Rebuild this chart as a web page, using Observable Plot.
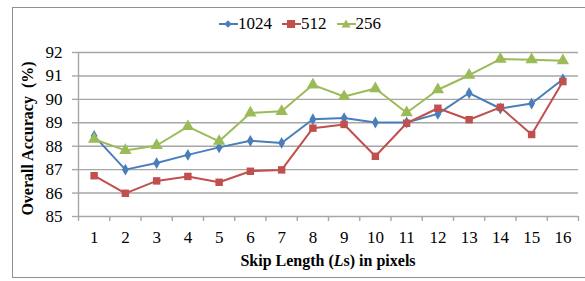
<!DOCTYPE html>
<html><head><meta charset="utf-8">
<script src="https://cdn.jsdelivr.net/npm/d3@7"></script>
<script src="https://cdn.jsdelivr.net/npm/@observablehq/plot@0.6"></script>
<style>
html,body{margin:0;padding:0;background:#fff;overflow:hidden;}
#wrap{position:relative;width:585px;height:281px;font-family:'Liberation Serif','Times New Roman',serif;}
#frame{position:absolute;left:12px;top:7px;width:600px;height:271px;border:1px solid #8f8f8f;box-sizing:border-box;}
#legend{position:absolute;top:14px;left:219px;display:flex;align-items:center;font-size:17px;color:#000;}
#legend .item{display:flex;align-items:center;margin-right:10px;}
#legend svg{display:block;}
#xlabel{position:absolute;left:0;width:656px;top:252px;text-align:center;font-weight:bold;font-size:16px;color:#000;}
#chart{position:absolute;left:0;top:0;}
#chart svg text{font-family:'Liberation Serif','Times New Roman',serif;}
</style></head>
<body><div id="wrap"><div id="frame"></div><div id="chart"></div><div id="legend"></div><div id="xlabel">Skip Length (<i>L</i>s) in pixels</div></div>
<script>
const skip = [1,2,3,4,5,6,7,8,9,10,11,12,13,14,15,16];
const acc1024 = [88.44,87.0,87.28,87.63,87.95,88.23,88.14,89.15,89.2,89.01,89.01,89.38,90.27,89.61,89.82,90.86];
const acc512  = [86.74,85.99,86.52,86.71,86.46,86.93,86.99,88.77,88.93,87.57,88.98,89.62,89.13,89.66,88.5,90.76];
const acc256  = [88.3,87.82,88.03,88.84,88.21,89.42,89.49,90.62,90.12,90.46,89.43,90.41,91.03,91.72,91.69,91.65];
const seriesNames = ["1024","512","256"];
const colors = ["#4a7ebb","#c0504d","#9bbb59"];
const symbols = ["diamond","square","triangle"];
const yTicks = [85,86,87,88,89,90,91,92];

const data = [];
[acc1024, acc512, acc256].forEach((arr, i) => arr.forEach((v, j) => data.push({s: seriesNames[i], x: skip[j], y: v})));

const boundaries = d3.range(0.5, 17, 1);
const plot = Plot.plot({
  width: 585, height: 281,
  marginLeft: 78, marginRight: 7, marginTop: 52, marginBottom: 65,
  x: {domain: [0.5, 16.5]},
  y: {domain: [85, 92]},
  color: {domain: seriesNames, range: colors},
  symbol: {domain: seriesNames, range: symbols},
  style: {fontFamily: "'Liberation Serif', 'Times New Roman', serif", fontSize: "17px", color: "#000", background: "transparent"},
  marks: [
    Plot.ruleY(yTicks.slice(1), {stroke: "#a6a6a6", strokeWidth: 1.4}),
    Plot.ruleY([85], {stroke: "#a6a6a6", strokeWidth: 1.4}),
    Plot.ruleX([0.5], {stroke: "#a6a6a6", strokeWidth: 1.4}),
    Plot.axisY({ticks: yTicks, tickSize: 6, tickPadding: 10, stroke: "#a6a6a6", strokeWidth: 1.4, color: "#000", label: null, tickFormat: d => d}),
    Plot.axisX({ticks: boundaries, tickSize: 5, tickFormat: () => "", stroke: "#a6a6a6", strokeWidth: 1.4, label: null}),
    Plot.axisX({ticks: skip, tickSize: 0, tickPadding: 14, label: null, tickFormat: d => d, color: "#000"}),
    Plot.line(data, {x: "x", y: "y", z: "s", stroke: "s", strokeWidth: 2}),
    Plot.dot(data.filter(d => d.s === "1024"), {x: "x", y: "y", fill: "s", symbol: "s", r: 3.6, stroke: "none"}),
    Plot.dot(data.filter(d => d.s === "512"), {x: "x", y: "y", fill: "s", symbol: "s", r: 4.2, stroke: "none"}),
    Plot.dot(data.filter(d => d.s === "256"), {x: "x", y: "y", fill: "s", symbol: "s", r: 4.6, stroke: "none"}),
    Plot.text(["Overall Accuracy\u00a0\u00a0(%)"], {frameAnchor: "left", textAnchor: "middle", dx: -51, dy: 4, rotate: -90, fontWeight: "bold", fontSize: 16, fill: "#000"})
  ]
});
document.getElementById("chart").appendChild(plot);

// legend
const leg = document.getElementById("legend");
const shapes = [
  c => `<path d="M9,3.2 L12.6,7 L9,10.8 L5.4,7 Z" fill="${c}"/>`,
  c => `<rect x="5" y="3" width="8" height="8" fill="${c}"/>`,
  c => `<path d="M9,2.5 L13.5,10.5 L4.5,10.5 Z" fill="${c}"/>`
];
seriesNames.forEach((n, i) => {
  const it = document.createElement("div");
  it.className = "item";
  it.innerHTML = `<svg width="19" height="14"><line x1="0" y1="7" x2="19" y2="7" stroke="${colors[i]}" stroke-width="2"/>${shapes[i](colors[i])}</svg><span>${n}</span>`;
  leg.appendChild(it);
});
</script></body></html>
